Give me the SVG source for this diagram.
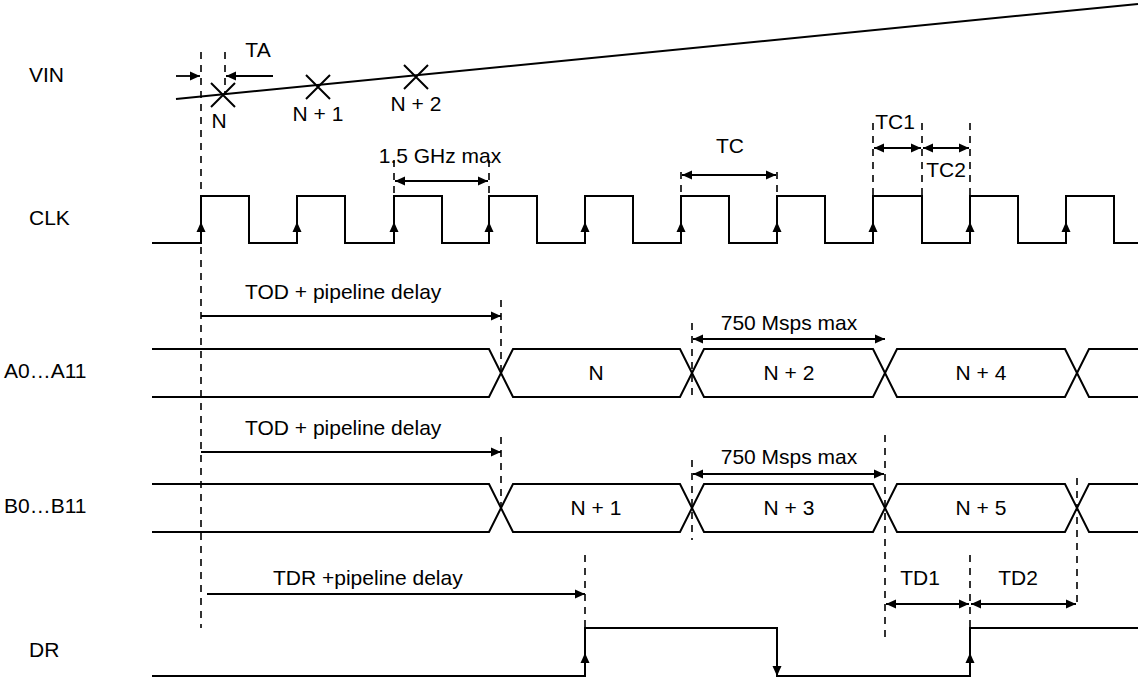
<svg xmlns="http://www.w3.org/2000/svg" width="1140" height="679" viewBox="0 0 1140 679">
<style>
text{font-family:"Liberation Sans",Arial,sans-serif;font-size:21px;fill:#000}
.m{text-anchor:middle}
.w{fill:none;stroke:#000;stroke-width:2}
.d{fill:none;stroke:#000;stroke-width:1.6;stroke-dasharray:7 6}
.a{fill:none;stroke:#000;stroke-width:1.8}
.e{marker-end:url(#ah)}
.b{marker-start:url(#ah);marker-end:url(#ah)}
</style>
<defs>
<marker id="ah" viewBox="0 0 10 10" refX="10" refY="5" markerWidth="10" markerHeight="10" markerUnits="userSpaceOnUse" orient="auto-start-reverse"><path d="M0 0.5 L10 5 L0 9.5 Z" fill="#000"/></marker>
<path id="up" d="M0 0 L-4.5 10 L4.5 10 Z" fill="#000"/>
<path id="dn" d="M0 0 L-4.5 -10 L4.5 -10 Z" fill="#000"/>
</defs>
<g id="labels">
<text x="29" y="82">VIN</text>
<text x="29" y="225">CLK</text>
<text x="4" y="378">A0…A11</text>
<text x="4" y="513">B0…B11</text>
<text x="29" y="657">DR</text>
</g>
<g id="vin">
<path class="w" d="M176 99 L1138 4"/>
<path class="w" d="M211 83 L235 107 M235 83 L211 107"/>
<path class="w" d="M306 75 L330 99 M330 75 L306 99"/>
<path class="w" d="M404 65 L428 89 M428 65 L404 89"/>
<text class="m" x="219" y="128">N</text>
<text class="m" x="318" y="121">N + 1</text>
<text class="m" x="416" y="111">N + 2</text>
</g>
<g id="clk">
<path class="w" d="M152 243 H201 V196 H249 V243 H297 V196 H345 V243 H394 V196 H442 V243 H489 V196 H537 V243 H585 V196 H633 V243 H681 V196 H729 V243 H777 V196 H825 V243 H873 V196 H922 V243 H970 V196 H1018 V243 H1066 V196 H1114 V243 H1138"/>
<use href="#up" x="201" y="222"/><use href="#up" x="297" y="222"/><use href="#up" x="394" y="222"/><use href="#up" x="489" y="222"/><use href="#up" x="585" y="222"/><use href="#up" x="681" y="222"/><use href="#up" x="777" y="222"/><use href="#up" x="873" y="222"/><use href="#up" x="970" y="222"/><use href="#up" x="1066" y="222"/>
</g>
<g id="busA">
<path class="w" d="M152 349 H489 L513 397 H680 L704 349 H873 L897 397 H1065 L1089 349 H1138"/>
<path class="w" d="M152 397 H489 L513 349 H680 L704 397 H873 L897 349 H1065 L1089 397 H1138"/>
<text class="m" x="596" y="380">N</text>
<text class="m" x="789" y="380">N + 2</text>
<text class="m" x="981" y="380">N + 4</text>
</g>
<g id="busB">
<path class="w" d="M152 484 H489 L513 532 H680 L704 484 H873 L897 532 H1065 L1089 484 H1138"/>
<path class="w" d="M152 532 H489 L513 484 H680 L704 532 H873 L897 484 H1065 L1089 532 H1138"/>
<text class="m" x="596" y="515">N + 1</text>
<text class="m" x="789" y="515">N + 3</text>
<text class="m" x="981" y="515">N + 5</text>
</g>
<g id="dr">
<path class="w" d="M152 676 H585 V628 H777 V676 H970 V628 H1138"/>
<use href="#up" x="585" y="653"/><use href="#dn" x="777" y="676"/><use href="#up" x="970" y="653"/>
</g>
<g id="guides">
<path class="d" d="M201 52 V628 M225 52 V93 M394 160 V196 M489 160 V196 M681 172 V196 M777 172 V196 M873 123 V196 M922 123 V196 M970 123 V196 M501 300 V373 M692 323 V400 M501 437 V508 M692 460 V540 M885 435 V638 M1077 478 V603 M585 555 V628 M970 555 V628"/>
</g>
<g id="connectors">
<path class="a e" d="M176 76 H200"/>
<path class="a e" d="M273 76 H226"/>
<path class="a b" d="M395 181 H488"/>
<path class="a b" d="M682 175 H776"/>
<path class="a b" d="M874 148 H921"/>
<path class="a b" d="M923 148 H969"/>
<path class="a e" d="M201 316 H501"/>
<path class="a b" d="M693 339 H885"/>
<path class="a e" d="M201 452 H501"/>
<path class="a b" d="M693 474 H884"/>
<path class="a e" d="M207 594 H585"/>
<path class="a b" d="M886 604 H969"/>
<path class="a b" d="M971 604 H1076"/>
</g>
<g id="annotations">
<text class="m" x="258" y="57">TA</text>
<text class="m" x="440" y="163">1.5 GHz max</text>
<text class="m" x="730" y="153">TC</text>
<text class="m" x="895" y="129">TC1</text>
<text class="m" x="946" y="177">TC2</text>
<text x="245" y="299">TOD + pipeline delay</text>
<text class="m" x="789" y="330">750 Msps max</text>
<text x="245" y="435">TOD + pipeline delay</text>
<text class="m" x="789" y="464">750 Msps max</text>
<text x="273" y="585">TDR +pipeline delay</text>
<text class="m" x="920" y="585">TD1</text>
<text class="m" x="1018" y="585">TD2</text>
</g>
</svg>
